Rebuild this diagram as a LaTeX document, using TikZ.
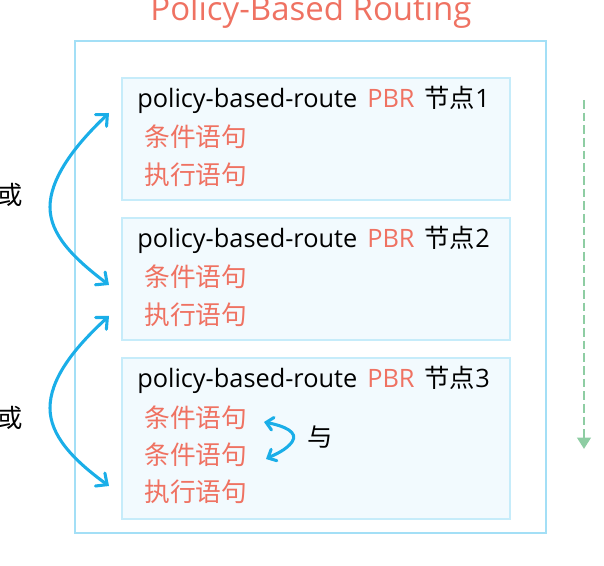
\documentclass[tikz,border=0pt]{standalone}
\usepackage{fontspec}
\setmainfont{Open Sans}
\newfontfamily\cjk{Noto Sans CJK SC}
\usetikzlibrary{arrows.meta}
\definecolor{pbrred}{HTML}{EF7262}
\definecolor{bord}{HTML}{A3DFF6}
\definecolor{ibord}{HTML}{C6ECFA}
\definecolor{ifill}{HTML}{F2FAFE}
\definecolor{arblue}{HTML}{1AAEE8}
\definecolor{argreen}{HTML}{8ECDA3}
\newcommand{\gapw}{\hspace{7.5pt}}
\begin{document}
\begin{tikzpicture}[x=0.75pt,y=-0.75pt,
  outerbox/.style={draw=bord,line width=1.9pt,minimum width=353.25pt,minimum height=369pt,inner sep=0},
  innerbox/.style={draw=ibord,fill=ifill,line width=1.7pt,minimum width=291pt,inner sep=0},
  head/.style={anchor=base west,inner sep=0,font=\fontsize{19pt}{22pt}\selectfont},
  cond/.style={anchor=west,inner sep=0,text=pbrred,font=\fontsize{19.3pt}{22pt}\selectfont\cjk},
  cjklabel/.style={inner sep=0,font=\fontsize{19pt}{22pt}\selectfont\cjk},
  blueline/.style={draw=arblue,line width=2.3pt,line cap=round,{Straight Barb[length=6.5pt,width=12pt,line cap=round]}-{Straight Barb[length=6.5pt,width=12pt,line cap=round]}},
  smallblue/.style={draw=arblue,line width=2.3pt,line cap=round,{Straight Barb[length=5pt,width=9.5pt,line cap=round]}-{Straight Barb[length=5pt,width=9.5pt,line cap=round]}},
  greenline/.style={draw=argreen,line width=2.1pt,dash pattern=on 6.5pt off 3pt,-{Triangle[length=8.5pt,width=10pt]}},
]
\useasboundingbox (0,0) rectangle (604,566);
\node[anchor=base,inner sep=0,text=pbrred,font=\fontsize{24.75pt}{28pt}\selectfont] (title) at (311,21) {Policy-Based Routing};
\node[outerbox] (outer) at (310.5,287) {};
\node[innerbox,minimum height=91.5pt] (b1) at (316,139) {};
\node[innerbox,minimum height=91.5pt] (b2) at (316,279) {};
\node[innerbox,minimum height=120.75pt] (b3) at (316,438.5) {};
\node[head] (h1) at (137,108) {policy-based-route\gapw\textcolor{pbrred}{PBR}\gapw{\cjk 节点}1};
\node[head] (h2) at (137,248) {policy-based-route\gapw\textcolor{pbrred}{PBR}\gapw{\cjk 节点}2};
\node[head] (h3) at (137,388) {policy-based-route\gapw\textcolor{pbrred}{PBR}\gapw{\cjk 节点}3};
\node[cond] (c11) at (144,137) {条件语句};
\node[cond] (c12) at (144,175) {执行语句};
\node[cond] (c21) at (144,277) {条件语句};
\node[cond] (c22) at (144,315) {执行语句};
\node[cond] (c31) at (144,417.5) {条件语句};
\node[cond] (c32) at (144,455) {条件语句};
\node[cond] (c33) at (144,492) {执行语句};
\node[cjklabel,anchor=east] (or1) at (23,195) {或};
\node[cjklabel,anchor=east] (or2) at (23,418) {或};
\node[cjklabel] (and) at (320,437) {与};
\coordinate (a1s) at (109,113);
\coordinate (a1m) at (50,207);
\coordinate (a1e) at (109,285);
\coordinate (a2s) at (109,316);
\coordinate (a2m) at (50,408);
\coordinate (a2e) at (109,486);
\draw[blueline] (a1s) .. controls (72,148) and (50,180) .. (a1m) .. controls (50,234) and (72,257) .. (a1e);
\draw[blueline] (a2s) .. controls (72,350) and (50,380) .. (a2m) .. controls (50,435) and (72,459) .. (a2e);
\coordinate (s1) at (264,422);
\coordinate (s2) at (266,459);
\draw[smallblue] (s1) .. controls (284,426) and (299,432) .. (292,442) .. controls (286,450) and (276,454) .. (s2);
\coordinate (g1) at (584,100);
\coordinate (g2) at (584,449);
\draw[greenline] (g1) -- (g2);
\end{tikzpicture}
\end{document}
